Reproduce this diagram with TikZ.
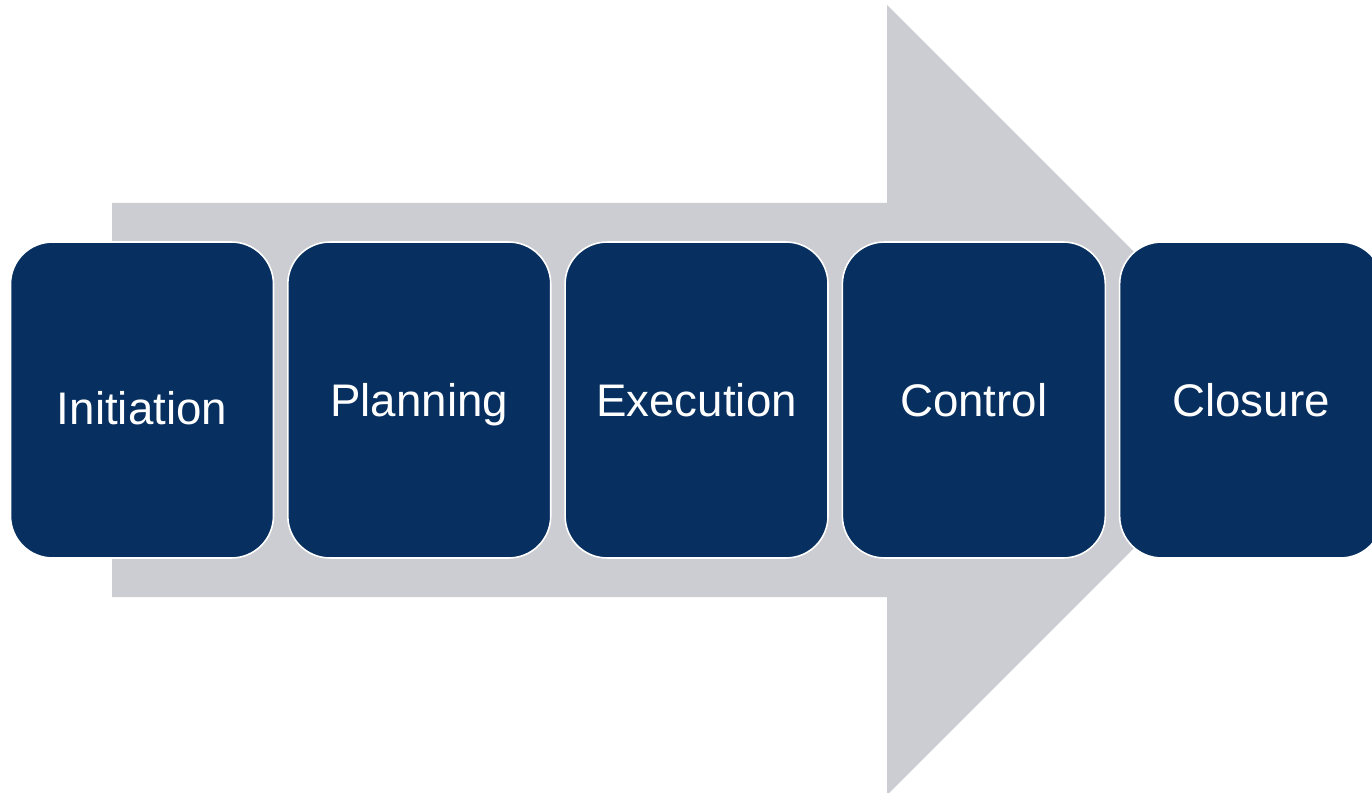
\documentclass[tikz,border=0pt]{standalone}
\usepackage{fontspec}
\setmainfont{Liberation Sans}
\usetikzlibrary{positioning}
\definecolor{arrowgray}{HTML}{CBCDD3}
\definecolor{phasenavy}{HTML}{072F5F}
\begin{document}
\begin{tikzpicture}[
			x=0.02cm, y=0.02cm,
			node distance=0.255cm,
			phase/.style={rectangle, rounded corners=0.84cm, fill=phasenavy, draw=white,
					line width=0.9pt, minimum width=5.26cm, minimum height=6.32cm, inner sep=0pt,
					text=white, font=\fontsize{26}{31}\selectfont, text height=18.6pt, text depth=0pt},
			lowtext/.style={text height=27.7pt}
		]
		\clip (0,0) rectangle (1372,792);
		\fill[white] (0,0) rectangle (1372,792);
		% big arrow behind the phases
		\fill[arrowgray] (112,195) -- (112,589) -- (887,589) -- (887,787)
		-- (1282,392) -- (887,-3) -- (887,195) -- cycle;
		\node[phase, lowtext] (init) at (142,392) {Initiation};
		\node[phase, right=of init] (plan) {Planning};
		\node[phase, right=of plan] (exec) {Execution};
		\node[phase, right=of exec] (ctrl) {Control};
		\node[phase, right=of ctrl] (close) {Closure};
	\end{tikzpicture}
\end{document}
